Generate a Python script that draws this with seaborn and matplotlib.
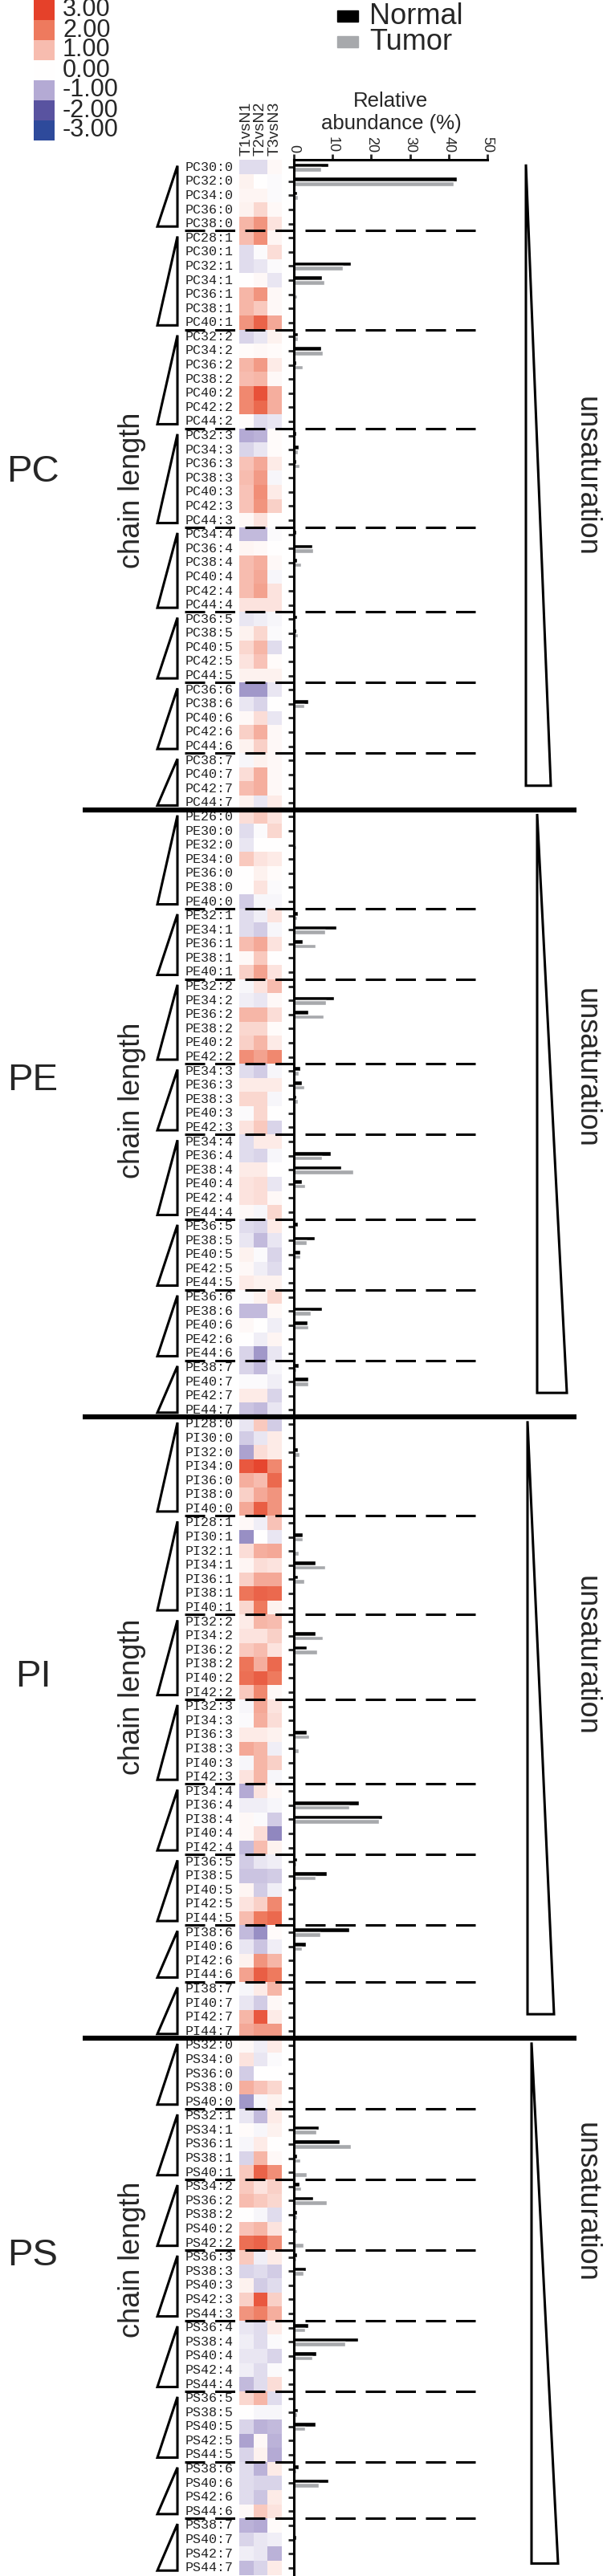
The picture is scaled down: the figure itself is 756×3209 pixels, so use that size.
import numpy as np
import pandas as pd
import matplotlib
matplotlib.use("Agg")
import matplotlib.pyplot as plt
import seaborn as sns
from matplotlib.colors import LinearSegmentedColormap
from matplotlib.patches import Polygon, Rectangle
from matplotlib.lines import Line2D
import matplotlib.transforms as mtransforms

# ---------------- data ----------------
comparisons = ["T1vsN1", "T2vsN2", "T3vsN3"]
groups = ["Normal", "Tumor"]
legend_values = [3, 2, 1, 0, -1, -2, -3]
abundance_ticks = [0, 10, 20, 30, 40, 50]

pc_species = ["PC30:0", "PC32:0", "PC34:0", "PC36:0", "PC38:0",
              "PC28:1", "PC30:1", "PC32:1", "PC34:1", "PC36:1", "PC38:1", "PC40:1",
              "PC32:2", "PC34:2", "PC36:2", "PC38:2", "PC40:2", "PC42:2", "PC44:2",
              "PC32:3", "PC34:3", "PC36:3", "PC38:3", "PC40:3", "PC42:3", "PC44:3",
              "PC34:4", "PC36:4", "PC38:4", "PC40:4", "PC42:4", "PC44:4",
              "PC36:5", "PC38:5", "PC40:5", "PC42:5", "PC44:5",
              "PC36:6", "PC38:6", "PC40:6", "PC42:6", "PC44:6",
              "PC38:7", "PC40:7", "PC42:7", "PC44:7"]
pc_t1 = [-0.4, 0.2, 0.15, 0.2, 1.1, 1.0, -0.4, -0.4, 0.0, 1.1, 1.1, 1.6,
         -0.5, 0.05, 1.1, 1.0, 1.8, 1.8, 0.05, -1.0, -0.5, 0.9, 1.0, 0.9, 0.9, 0.1,
         -0.8, 0.15, 1.0, 1.0, 1.0, 0.4, -0.3, 0.2, 0.6, 0.4, 0.2,
         -1.2, -0.3, 0.1, 0.7, 0.2, -0.1, 0.5, 1.0, 0.2]
pc_t2 = [-0.4, 0.0, 0.15, 0.6, 1.6, 1.7, -0.05, -0.3, 0.1, 1.6, 0.8, 2.4,
         -0.3, 0.1, 1.5, 1.1, 2.7, 2.3, -0.4, -0.9, -0.3, 1.3, 1.5, 1.7, 1.6, 0.4,
         -0.8, 0.1, 1.2, 1.3, 1.4, 0.4, -0.2, 0.6, 1.1, 0.9, 0.2,
         -1.2, -0.5, 0.5, 1.2, 0.7, 0.2, 1.2, 1.2, -0.3]
pc_t3 = [0.1, -0.05, -0.05, 0.1, 0.4, 0.15, 0.5, -0.05, -0.3, 0.1, 0.1, 1.3,
         0.2, 0.05, 0.3, 0.1, 1.2, 1.2, -0.3, 0.05, 0.05, 0.3, -0.1, 0.3, 0.7, 0.0,
         -0.05, 0.0, 0.1, -0.1, 0.4, 0.4, -0.1, -0.05, -0.4, 0.05, 0.2,
         -0.3, 0.0, -0.3, 0.1, 0.1, 0.1, 0.1, 0.1, 0.3]
pc_normal = [9.0, 42.2, 0.8, 0.1, 0.0, 0.0, 0.1, 14.7, 7.2, 0.1, 0.0, 0.0,
             1.1, 7.1, 0.7, 0.0, 0.0, 0.0, 0.0, 0.6, 1.2, 0.6, 0.0, 0.0, 0.0, 0.0,
             0.6, 4.8, 0.8, 0.0, 0.0, 0.0, 0.9, 0.6, 0.0, 0.0, 0.0,
             0.4, 3.7, 0.0, 0.0, 0.0, 0.0, 0.0, 0.0, 0.0]
pc_tumor = [7.1, 41.3, 1.0, 0.0, 0.0, 0.0, 0.0, 12.7, 7.9, 0.9, 0.0, 0.0,
            1.0, 7.4, 2.3, 0.0, 0.0, 0.0, 0.0, 0.3, 1.0, 1.5, 0.0, 0.0, 0.0, 0.0,
            0.3, 5.0, 1.8, 0.0, 0.0, 0.0, 0.3, 1.0, 0.0, 0.0, 0.0,
            0.1, 2.8, 0.0, 0.0, 0.0, 0.0, 0.0, 0.0, 0.0]

pe_species = ["PE26:0", "PE30:0", "PE32:0", "PE34:0", "PE36:0", "PE38:0", "PE40:0",
              "PE32:1", "PE34:1", "PE36:1", "PE38:1", "PE40:1",
              "PE32:2", "PE34:2", "PE36:2", "PE38:2", "PE40:2", "PE42:2",
              "PE34:3", "PE36:3", "PE38:3", "PE40:3", "PE42:3",
              "PE34:4", "PE36:4", "PE38:4", "PE40:4", "PE42:4", "PE44:4",
              "PE36:5", "PE38:5", "PE40:5", "PE42:5", "PE44:5",
              "PE36:6", "PE38:6", "PE40:6", "PE42:6", "PE44:6",
              "PE38:7", "PE40:7", "PE42:7", "PE44:7"]
pe_t1 = [0.5, -0.4, -0.3, 0.8, 0.0, 0.0, -0.6, -0.4, -0.4, 1.0, 0.1, 0.7,
         -0.1, -0.2, 1.1, 0.6, 0.7, 1.7, -0.4, 0.3, 0.6, -0.05, 0.4,
         -0.4, -0.4, 0.3, 0.4, 0.4, 0.1, -0.4, -0.3, 0.2, 0.1, 0.3,
         -0.05, -0.8, 0.1, 0.0, -0.5, -0.5, -0.05, 0.3, -0.7]
pe_t2 = [0.8, -0.05, 0.0, 0.4, 0.2, 0.4, -0.1, -0.2, -0.6, 1.3, 0.8, 1.4,
         0.4, -0.3, 1.1, 0.6, 1.1, 1.4, -0.6, 0.3, 0.6, 0.6, 0.8,
         0.3, -0.5, 0.3, 0.5, 0.5, -0.1, -0.5, -0.8, -0.05, -0.2, 0.2,
         0.2, -0.8, 0.0, -0.2, -1.2, -0.8, -0.05, 0.3, -0.8]
pe_t3 = [0.4, 0.6, 0.0, 0.3, 0.05, -0.05, -0.1, 0.4, -0.1, 0.4, 0.0, 0.4,
         1.0, 0.1, 0.5, 0.05, 0.3, 1.8, -0.1, 0.3, -0.1, 0.0, -0.5,
         0.3, -0.1, 0.0, -0.3, 0.1, 0.6, 0.3, -0.3, -0.5, -0.4, 0.2,
         0.6, 0.1, -0.2, 0.15, -0.3, -0.1, -0.2, -0.5, -0.3]
pe_normal = [0, 0, 0.5, 0, 0.3, 0, 0, 1.1, 10.9, 2.3, 0.3, 0,
             0, 10.3, 3.8, 0.3, 0, 0, 1.7, 2.1, 0.6, 0, 0,
             0, 9.6, 12.2, 2.1, 0, 0, 1.0, 5.3, 1.7, 0, 0,
             0, 7.2, 3.6, 0, 0, 1.3, 3.7, 0, 0]
pe_tumor = [0, 0, 0.7, 0, 0.4, 0, 0, 0.9, 8.1, 5.5, 0.5, 0,
            0, 8.4, 7.6, 0.5, 0, 0, 1.2, 2.6, 1.0, 0, 0,
            0, 7.2, 15.3, 3.0, 0, 0, 0.5, 3.4, 1.7, 0, 0,
            0, 4.4, 3.7, 0, 0, 0.7, 3.7, 0, 0]

pi_species = ["PI28:0", "PI30:0", "PI32:0", "PI34:0", "PI36:0", "PI38:0", "PI40:0",
              "PI28:1", "PI30:1", "PI32:1", "PI34:1", "PI36:1", "PI38:1", "PI40:1",
              "PI32:2", "PI34:2", "PI36:2", "PI38:2", "PI40:2", "PI42:2",
              "PI32:3", "PI34:3", "PI36:3", "PI38:3", "PI40:3", "PI42:3",
              "PI34:4", "PI36:4", "PI38:4", "PI40:4", "PI42:4",
              "PI36:5", "PI38:5", "PI40:5", "PI42:5", "PI44:5",
              "PI38:6", "PI40:6", "PI42:6", "PI44:6",
              "PI38:7", "PI40:7", "PI42:7", "PI44:7"]
pi_t1 = [-0.3, -0.6, -1.1, 2.6, 1.2, 0.7, 1.3, 0.1, -1.3, 0.5, 0.15, 0.7, 2.1, 0.6,
         0.3, 0.4, 0.8, 2.1, 2.2, 0.8, -0.1, -0.05, 0.3, 1.3, -0.1, 0.4,
         -1.0, -0.2, 0.1, 0.1, -0.8, -0.6, -0.7, 0.15, 0.4, 1.0,
         -0.8, -0.3, 0.2, 1.4, -0.1, -0.3, 1.1, 1.3]
pi_t2 = [0.8, -0.3, 0.5, 2.9, 1.0, 1.3, 2.5, -0.2, 0.0, 1.2, 0.5, 1.3, 2.4, 2.0,
         1.1, 0.4, 1.0, 1.2, 2.5, 1.8, 1.3, 1.2, 0.3, 1.1, 1.1, 1.1,
         0.4, -0.2, -0.05, 0.5, 1.0, -0.3, -0.7, -0.6, 0.7, 2.0,
         -1.3, -0.7, 1.6, 2.5, 0.3, -0.6, 2.6, 1.5]
pi_t3 = [-0.6, 0.3, 0.3, 1.8, 2.3, 1.6, 1.6, 0.9, -0.3, 1.3, 0.4, 1.3, 2.3, 0.2,
         1.0, 0.7, 0.4, 2.3, 2.0, 0.1, 0.4, 0.5, 0.2, -0.2, 0.7, -0.1,
         0.1, -0.1, -0.6, -1.4, 0.2, -0.2, -0.6, -0.2, 1.8, 2.3,
         0.05, -0.2, 1.1, 2.0, 1.1, 0.1, 0.3, 1.5]
pi_normal = [0.1, 0.5, 1.0, 0.1, 0, 0, 0, 0, 2.2, 0.5, 5.6, 1.0, 0, 0.1,
             0, 5.6, 3.4, 0, 0, 0, 0, 0, 3.3, 0.5, 0, 0,
             0, 16.8, 22.8, 0.1, 0, 0.8, 8.5, 0.6, 0, 0,
             14.3, 3.1, 0, 0, 0, 0.2, 0, 0]
pi_tumor = [0.5, 0.5, 1.5, 0.5, 0, 0, 0, 0, 2.2, 1.2, 8.1, 2.6, 0, 0.2,
            0, 7.4, 6.0, 0.4, 0, 0, 0, 0, 4.0, 1.2, 0, 0,
            0, 14.4, 22.0, 0.3, 0, 0.6, 5.6, 0.2, 0, 0,
            6.8, 2.0, 0, 0, 0, 0, 0, 0]

ps_species = ["PS32:0", "PS34:0", "PS36:0", "PS38:0", "PS40:0",
              "PS32:1", "PS34:1", "PS36:1", "PS38:1", "PS40:1",
              "PS34:2", "PS36:2", "PS38:2", "PS40:2", "PS42:2",
              "PS36:3", "PS38:3", "PS40:3", "PS42:3", "PS44:3",
              "PS36:4", "PS38:4", "PS40:4", "PS42:4", "PS44:4",
              "PS36:5", "PS38:5", "PS40:5", "PS42:5", "PS44:5",
              "PS38:6", "PS40:6", "PS42:6", "PS44:6",
              "PS38:7", "PS40:7", "PS42:7", "PS44:7"]
ps_t1 = [0.1, 0.4, -0.6, 1.2, -1.2, -0.3, 0.05, -0.1, -0.5, 0.8,
         0.8, 1.0, 0.0, 0.9, 2.2, 0.8, -0.5, 0.2, 0.7, 1.6,
         -0.3, -0.2, -0.3, -0.2, -0.8, 0.6, 0.0, -0.5, -1.1, -0.5,
         -0.4, -0.4, -0.4, 0.1, -0.9, -0.5, -0.2, -0.8]
ps_t2 = [-0.2, -0.3, 0.0, 0.9, -0.1, -0.8, -0.1, 0.3, 1.1, 2.4,
         0.4, 0.8, -0.1, 1.1, 2.4, -0.2, -0.4, -0.6, 2.6, 1.9,
         -0.4, -0.4, -0.3, -0.4, -0.4, 1.1, -0.1, -0.9, 0.1, 0.2,
         -0.9, -0.5, -0.7, 0.8, -1.0, -0.3, -0.3, -0.5]
ps_t3 = [0.3, -0.05, 0.0, 0.6, 0.2, 0.3, 0.2, 0.0, 0.1, 1.7,
         0.7, 0.6, -0.4, 0.4, 1.7, 0.3, -0.6, -0.4, 0.7, 1.2,
         0.3, -0.05, -0.5, -0.05, 0.5, -0.4, -0.1, -0.8, -0.9, -1.0,
         0.3, -0.5, 0.3, 0.4, 0.05, -0.2, -0.9, 0.3]
ps_normal = [0.5, 0.5, 0.4, 0, 0, 0.4, 6.4, 11.8, 0.8, 0.5,
             1.4, 5.0, 0.9, 0.4, 0.3, 0.9, 3.1, 0, 0.2, 0,
             3.7, 16.7, 5.9, 0.5, 0, 0, 1.0, 5.5, 0, 0,
             1.3, 9.0, 0, 0, 0.5, 0.6, 0, 0]
ps_tumor = [0.2, 0.2, 0.1, 0, 0, 0.1, 5.8, 14.8, 1.6, 3.4,
            1.9, 8.5, 0.8, 0.9, 2.4, 0.7, 2.4, 0, 0, 0,
            2.9, 13.3, 4.8, 0.2, 0, 0, 0.8, 3.0, 0, 0,
            0.6, 6.4, 0, 0, 0.2, 0.3, 0, 0]

# ---------------- assemble ----------------
species = pc_species + pe_species + pi_species + ps_species
heat = pd.DataFrame({
    comparisons[0]: pc_t1 + pe_t1 + pi_t1 + ps_t1,
    comparisons[1]: pc_t2 + pe_t2 + pi_t2 + ps_t2,
    comparisons[2]: pc_t3 + pe_t3 + pi_t3 + ps_t3,
}, index=species)
bars = pd.DataFrame({
    "species": species * 2,
    "group": [groups[0]] * len(species) + [groups[1]] * len(species),
    "value": (pc_normal + pe_normal + pi_normal + ps_normal)
             + (pc_tumor + pe_tumor + pi_tumor + ps_tumor),
})

lipid_class = [s[:2] for s in species]
unsat = [s.split(":")[1] for s in species]

# ---------------- style ----------------
sns.set_style("white")
plt.rcParams["font.family"] = ["Liberation Sans", "DejaVu Sans"]
plt.rcParams["lines.scale_dashes"] = False

W, H = 756, 3209
fig = plt.figure(figsize=(W / 100, H / 100), dpi=100)

def fx(px):
    return px / W

def fy(py):
    return 1 - py / H

cmap = LinearSegmentedColormap.from_list("lipid", [
    (0.0, "#2E4A9B"), (1 / 6, "#5A53A0"), (2 / 6, "#B4AAD4"), (0.5, "#FFFFFF"),
    (4 / 6, "#F7BCAF"), (5 / 6, "#EE7B5F"), (1.0, "#E5412A")])

top_px, bot_px = 199.5, 3207.5
ax_hm = fig.add_axes([fx(298), fy(bot_px), fx(351) - fx(298), (bot_px - top_px) / H])
ax_bar = fig.add_axes([fx(366), fy(bot_px), fx(607) - fx(366), (bot_px - top_px) / H])

# heatmap
sns.heatmap(heat, ax=ax_hm, cmap=cmap, vmin=-3, vmax=3, cbar=False,
            xticklabels=True, yticklabels=True)
ax_hm.xaxis.tick_top()
ax_hm.tick_params(axis="both", length=0)
ax_hm.tick_params(axis="y", pad=5)
ax_hm.tick_params(axis="x", pad=4)
ax_hm.set_xticklabels(comparisons, rotation=90, fontsize=14)
ax_hm.set_yticklabels(species, rotation=0, fontsize=12,
                      fontfamily="Liberation Mono", color="#222222")
ax_hm.set_xlabel("")
ax_hm.set_ylabel("")

# bars
sns.barplot(data=bars, x="value", y="species", hue="group", order=species,
            hue_order=groups, palette=["#000000", "#A7A9AC"], orient="h",
            width=0.64, errorbar=None, saturation=1, legend=False, ax=ax_bar)
ax_bar.set_xlim(0, 50)
ax_bar.set_ylim(len(species) - 0.5, -0.5)
ax_bar.set_xlabel("")
ax_bar.set_ylabel("")
for sp in ["right", "bottom"]:
    ax_bar.spines[sp].set_visible(False)
for sp in ["left", "top"]:
    ax_bar.spines[sp].set_linewidth(2.2)
    ax_bar.spines[sp].set_color("black")
ax_bar.xaxis.tick_top()
ax_bar.set_xticks(abundance_ticks)
ax_bar.set_xticklabels([str(t) for t in abundance_ticks], rotation=-90, fontsize=13)
ax_bar.tick_params(axis="x", direction="out", length=5, width=2, pad=2)
ax_bar.tick_params(axis="y", direction="out", length=5, width=2, labelleft=False, left=True)

fig.text(fx(487), fy(140), "Relative\nabundance (%)", ha="center", va="center",
         fontsize=18.5, linespacing=1.2)

# colour legend
ax_leg = fig.add_axes([fx(42), fy(175), fx(68) - fx(42), 175 / H])
sns.heatmap(np.array(legend_values, dtype=float).reshape(-1, 1), ax=ax_leg, cmap=cmap,
            vmin=-3, vmax=3, cbar=False, xticklabels=False, yticklabels=False)
for i, v in enumerate(legend_values):
    fig.text(fx(78), fy(12.5 + 25 * i), f"{v:.2f}", ha="left", va="center", fontsize=22)

# group legend
for i, (g, c) in enumerate(zip(groups, ["#000000", "#A7A9AC"])):
    yc = 20 + 32 * i
    fig.add_artist(Rectangle((fx(420), fy(yc + 7)), fx(446) - fx(420), 14 / H,
                             transform=fig.transFigure, color=c))
    fig.text(fx(460), fy(yc), g, ha="left", va="center", fontsize=26)

# text anchor rows (row units) for class labels, "chain length" and "unsaturation"
class_label_rows = {"PC": 21.6, "PE": 64.7, "PI": 106.9, "PS": 147.9}
chain_rows = {"PC": 22.9, "PE": 66.1, "PI": 108.3, "PS": 148.2}
unsat_rows = {"PC": 21.9, "PE": 63.8, "PI": 105.4, "PS": 144.1}
# big "unsaturation" wedge: (left x px, bottom-right x px, bottom row offset from class end)
wedge = {"PC": (655, 686, 2.2), "PE": (669, 706, 2.2),
         "PI": (657, 690, 2.2), "PS": (662, 695, 1.3)}

# structure: class separators, dashed unsaturation separators, triangles
trans = mtransforms.blended_transform_factory(fig.transFigure, ax_bar.transData)
n = len(species)
idx = 0
class_blocks = []
while idx < n:
    j = idx
    while j < n and lipid_class[j] == lipid_class[idx]:
        j += 1
    class_blocks.append((lipid_class[idx], idx, j))
    idx = j

for cname, s, e in class_blocks:
    if s > 0:
        fig.add_artist(Line2D([fx(103), fx(718)], [s - 0.5, s - 0.5], transform=trans,
                              color="black", lw=4.5, solid_capstyle="butt"))
    k = s
    while k < e:
        m = k
        while m < e and unsat[m] == unsat[k]:
            m += 1
        if m < e:
            fig.add_artist(Line2D([fx(230), fx(592)], [m - 0.5, m - 0.5], transform=trans,
                                  color="black", lw=2.2, dashes=(18, 9)))
        fig.add_artist(Polygon([[fx(221), k - 0.1], [fx(221), m - 1 + 0.2],
                                [fx(196), m - 1 + 0.2]], closed=True, fill=False,
                               lw=2.2, ec="black", transform=trans, joinstyle="miter"))
        k = m
    wl, wr, wb = wedge[cname]
    fig.add_artist(Polygon([[fx(wl), s - 0.2], [fx(wl), e - wb], [fx(wr), e - wb]],
                           closed=True, fill=False, lw=2.2, ec="black",
                           transform=trans, joinstyle="miter"))
    fig.text(fx(41), class_label_rows[cname], cname, transform=trans, ha="center",
             va="center", fontsize=34)
    fig.text(fx(164), chain_rows[cname], "chain length", transform=trans, ha="center",
             va="center", rotation=90, fontsize=26)
    fig.text(fx(730), unsat_rows[cname], "unsaturation", transform=trans, ha="center",
             va="center", rotation=-90, fontsize=26)

fig.savefig("out.png", dpi=100)
